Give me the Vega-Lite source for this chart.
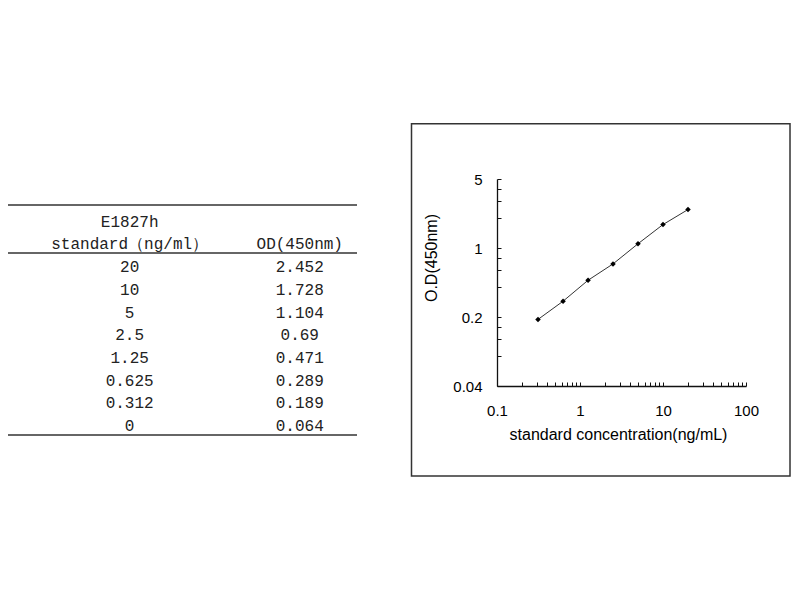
{
  "$schema": "https://vega.github.io/schema/vega-lite/v6.json",
  "background": "white",
  "padding": {"left": 7, "top": 122, "right": 5, "bottom": 5},
  "spacing": 52,
  "config": {"view": {"stroke": null}, "font": "Liberation Sans"},
  "datasets": {
    "standards": [
      {"row": 1, "conc": 20, "od": 2.452},
      {"row": 2, "conc": 10, "od": 1.728},
      {"row": 3, "conc": 5, "od": 1.104},
      {"row": 4, "conc": 2.5, "od": 0.69},
      {"row": 5, "conc": 1.25, "od": 0.471},
      {"row": 6, "conc": 0.625, "od": 0.289},
      {"row": 7, "conc": 0.312, "od": 0.189},
      {"row": 8, "conc": 0, "od": 0.064}
    ],
    "header": [
      {"row": -1, "column": "conc", "label": "E1827h"},
      {"row": 0, "column": "conc", "label": "standard（ng/ml）"},
      {"row": 0, "column": "od", "label": "OD(450nm)"}
    ]
  },
  "hconcat": [
    {
      "width": 349,
      "height": 270,
      "layer": [
        {
          "data": {"name": "standards"},
          "transform": [{"fold": ["conc", "od"]}],
          "mark": {"type": "text", "font": "Liberation Mono", "fontSize": 16, "color": "#222", "baseline": "middle"},
          "encoding": {
            "x": {"field": "key", "type": "nominal", "scale": {"type": "point", "domain": ["conc", "od"], "padding": 0.526, "align": 0.68}, "axis": null},
            "y": {"field": "row", "type": "quantitative", "scale": {"domain": [-2.885, 9.009], "reverse": true, "nice": false, "zero": false}, "axis": null},
            "text": {"field": "value", "type": "nominal"}
          }
        },
        {
          "data": {"name": "header"},
          "mark": {"type": "text", "font": "Liberation Mono", "fontSize": 16, "color": "#222", "baseline": "middle"},
          "encoding": {
            "x": {"field": "column", "type": "nominal", "axis": null},
            "y": {"field": "row", "type": "quantitative", "axis": null},
            "text": {"field": "label", "type": "nominal"}
          }
        },
        {
          "data": {"values": [{}]},
          "mark": {"type": "rule", "color": "#666", "strokeWidth": 2},
          "encoding": {"y": {"datum": -1.74, "type": "quantitative"}}
        },
        {
          "data": {"values": [{}]},
          "mark": {"type": "rule", "color": "#666", "strokeWidth": 2},
          "encoding": {"y": {"datum": 0.374, "type": "quantitative"}}
        },
        {
          "data": {"values": [{}]},
          "mark": {"type": "rule", "color": "#666", "strokeWidth": 2},
          "encoding": {"y": {"datum": 8.39, "type": "quantitative"}}
        }
      ]
    },
    {
      "width": 249,
      "height": 207,
      "layer": [
        {
          "data": {"name": "standards"},
          "transform": [{"filter": "datum.conc > 0"}],
          "mark": {"type": "line", "color": "#333", "strokeWidth": 1, "point": {"shape": "diamond", "size": 30, "filled": true, "color": "#000"}},
          "encoding": {
            "x": {
              "field": "conc",
              "type": "quantitative",
              "scale": {"type": "log", "domain": [0.1, 100], "nice": false},
              "axis": {
                "title": "standard concentration(ng/mL)",
                "values": [0.1, 0.2, 0.3, 0.4, 0.5, 0.6, 0.7, 0.8, 0.9, 1, 2, 3, 4, 5, 6, 7, 8, 9, 10, 20, 30, 40, 50, 60, 70, 80, 90, 100],
                "labelExpr": "indexof([0.1, 1, 10, 100], datum.value) >= 0 ? format(datum.value, '~g') : ''",
                "grid": false,
                "tickSize": -4,
                "tickColor": "#111",
                "domainColor": "#111",
                "domainWidth": 1.3,
                "labelFont": "Liberation Sans",
                "labelFontSize": 15,
                "labelColor": "#000",
                "labelPadding": 21,
                "labelOverlap": false,
                "labelFlush": false,
                "titleFont": "Liberation Sans",
                "titleFontSize": 16,
                "titleFontWeight": "normal",
                "titleColor": "#000",
                "titleX": 121,
                "titleY": 48,
                "titleBaseline": "middle"
              }
            },
            "y": {
              "field": "od",
              "type": "quantitative",
              "scale": {"type": "log", "base": 5, "domain": [0.04, 5], "nice": false},
              "axis": {
                "title": "O.D(450nm)",
                "values": [0.04, 0.08, 0.12, 0.16, 0.2, 0.4, 0.6, 0.8, 1, 2, 3, 4, 5],
                "labelExpr": "indexof([0.04, 0.2, 1, 5], datum.value) >= 0 ? format(datum.value, '~g') : ''",
                "grid": false,
                "tickSize": -4,
                "tickColor": "#111",
                "domainColor": "#111",
                "domainWidth": 1.3,
                "labelFont": "Liberation Sans",
                "labelFontSize": 15,
                "labelColor": "#000",
                "labelPadding": 19,
                "labelOverlap": false,
                "labelFlush": false,
                "titleFont": "Liberation Sans",
                "titleFontSize": 16,
                "titleFontWeight": "normal",
                "titleColor": "#000",
                "titleX": -66,
                "titleY": 78.5,
                "titleBaseline": "middle"
              }
            }
          }
        },
        {
          "data": {"values": [{}]},
          "mark": {"type": "rect", "filled": false, "stroke": "#333", "strokeWidth": 1.5},
          "encoding": {
            "x": {"datum": 0.00933, "type": "quantitative"},
            "x2": {"datum": 339},
            "y": {"datum": 18.15, "type": "quantitative"},
            "y2": {"datum": 0.0049}
          }
        }
      ]
    }
  ]
}
